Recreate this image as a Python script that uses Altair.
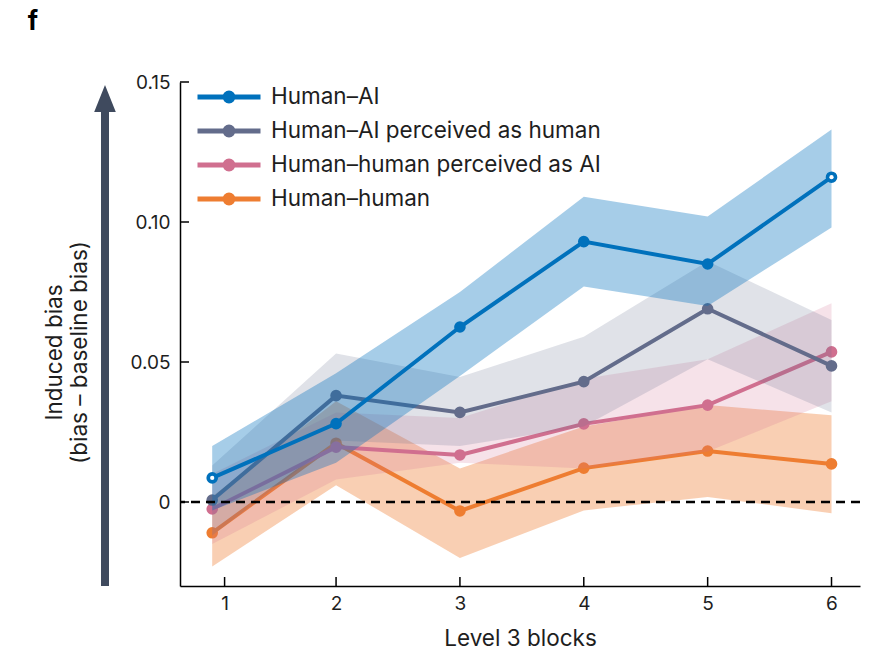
import altair as alt
import pandas as pd

blocks = [1, 2, 3, 4, 5, 6]
series_names = [
    "Human–AI",
    "Human–AI perceived as human",
    "Human–human perceived as AI",
    "Human–human",
]
colors = ["#0071BC", "#636C8B", "#D06F8F", "#EE7D31"]
band_opacity = [0.35, 0.2, 0.2, 0.37]

human_ai = [0.0086, 0.028, 0.0625, 0.093, 0.085, 0.116]
human_ai_lo = [-0.003, 0.014, 0.045, 0.077, 0.070, 0.098]
human_ai_hi = [0.020, 0.046, 0.075, 0.109, 0.102, 0.133]

ai_as_human = [0.0007, 0.038, 0.032, 0.043, 0.069, 0.0486]
ai_as_human_lo = [-0.012, 0.022, 0.020, 0.027, 0.051, 0.032]
ai_as_human_hi = [0.013, 0.053, 0.0446, 0.059, 0.086, 0.065]

human_as_ai = [-0.0025, 0.0196, 0.0168, 0.0279, 0.0346, 0.0536]
human_as_ai_lo = [-0.015, 0.008, 0.014, 0.012, 0.018, 0.036]
human_as_ai_hi = [0.010, 0.032, 0.030, 0.044, 0.051, 0.071]

human_human = [-0.011, 0.021, -0.0032, 0.0121, 0.0182, 0.0136]
human_human_lo = [-0.023, 0.006, -0.020, -0.003, 0.0018, -0.004]
human_human_hi = [0.002, 0.036, 0.012, 0.027, 0.0346, 0.031]

x_tick_values = [1.1, 2, 3, 4, 5, 6]
y_tick_values = [0, 0.05, 0.10, 0.15]
ring_blocks = [1, 6]

all_series = [
    (series_names[0], human_ai, human_ai_lo, human_ai_hi),
    (series_names[1], ai_as_human, ai_as_human_lo, ai_as_human_hi),
    (series_names[2], human_as_ai, human_as_ai_lo, human_as_ai_hi),
    (series_names[3], human_human, human_human_lo, human_human_hi),
]
rows = []
for name, mean, lo, hi in all_series:
    for b, m, l, h in zip(blocks, mean, lo, hi):
        rows.append({"series": name, "block": b, "mean": m, "lo": l, "hi": h})
df = pd.DataFrame(rows)

W, H = 680, 504
FONT = "Inter"
TXT = "#1E1E1E"
xscale = alt.Scale(domain=[0.74, 6.23], nice=False, zero=False)
yscale = alt.Scale(domain=[-0.03, 0.15], nice=False, zero=False)
cscale = alt.Scale(domain=series_names, range=colors)

xaxis = alt.Axis(
    values=x_tick_values,
    labelExpr="'' + round(datum.value)",
    ticks=False,
    grid=False,
    domainColor="black",
    domainWidth=1.5,
    labelFont=FONT,
    labelFontSize=19,
    labelColor=TXT,
    labelPadding=8,
    title="Level 3 blocks",
    titleFont=FONT,
    titleFontSize=22.5,
    titleFontWeight="normal",
    titleColor=TXT,
    titlePadding=14,
)
yaxis = alt.Axis(
    values=y_tick_values,
    labelExpr="datum.value == 0 ? '0' : format(datum.value, '.2f')",
    ticks=False,
    grid=False,
    domainColor="black",
    domainWidth=1.5,
    labelFont=FONT,
    labelFontSize=19,
    labelColor=TXT,
    labelPadding=10,
    title=["Induced bias", "(bias – baseline bias)"],
    titleFont=FONT,
    titleFontSize=22.5,
    titleFontWeight="normal",
    titleColor=TXT,
    titleLineHeight=25,
    titleX=-114,
    titleY=270,
    titleBaseline="bottom",
)

sym_path = (
    "M-3.15,0L3.15,0"
    "M0.4,0A0.4,0.4,0,1,1,-0.4,0A0.4,0.4,0,1,1,0.4,0"
    "M0.15,0A0.15,0.15,0,1,1,-0.15,0A0.15,0.15,0,1,1,0.15,0"
)
legend = alt.Legend(
    title=None,
    orient="none",
    legendX=36.5,
    legendY=2.5,
    padding=0,
    symbolType=sym_path,
    symbolSize=400,
    symbolStrokeWidth=5,
    labelFont=FONT,
    labelFontSize=22.5,
    labelColor=TXT,
    labelOffset=29.5,
    rowPadding=5,
    labelLimit=500,
)

X = lambda f: alt.X(f, scale=xscale, axis=xaxis)
Y = lambda f: alt.Y(f, scale=yscale, axis=yaxis)
C = alt.Color("series:N", scale=cscale, legend=legend)

base = alt.Chart(df)
layers = []
order = [3, 2, 1, 0]  # draw orange first, blue last
for idx in order:
    name = series_names[idx]
    sub = base.transform_filter(alt.FieldEqualPredicate(field="series", equal=name))
    band = sub.mark_area(color=colors[idx], opacity=band_opacity[idx]).encode(
        x=X("block:Q"), y=Y("lo:Q"), y2="hi:Q",
    )
    line = sub.mark_line(strokeWidth=4).encode(
        x=X("block:Q"), y=Y("mean:Q"), color=C,
    )
    pts = sub.mark_circle(size=135, opacity=1).encode(
        x=X("block:Q"), y=Y("mean:Q"), color=C,
    )
    layers += [band, line, pts]

rings = base.transform_filter(
    alt.FieldEqualPredicate(field="series", equal=series_names[0])
).transform_filter(
    alt.FieldOneOfPredicate(field="block", oneOf=ring_blocks)
).mark_circle(size=18, color="white", opacity=1).encode(
    x=X("block:Q"), y=Y("mean:Q")
)

zero = alt.Chart(pd.DataFrame({"z": [0]})).mark_rule(
    color="black", strokeWidth=2.5, strokeDash=[9, 6]
).encode(y=Y("z:Q"))

xticks = alt.Chart(pd.DataFrame({"t": x_tick_values})).mark_rule(
    color="black", strokeWidth=1.5
).encode(x=X("t:Q"), y=alt.value(H - 9), y2=alt.value(H))
yticks = alt.Chart(pd.DataFrame({"t": y_tick_values})).mark_rule(
    color="black", strokeWidth=1.5
).encode(y=Y("t:Q"), x=alt.value(0), x2=alt.value(9))

one = pd.DataFrame({"k": [0]})
arrow_shaft = alt.Chart(one).mark_rule(color="#3F4A5E", strokeWidth=8).encode(
    x=alt.value(-75), y=alt.value(28), y2=alt.value(504)
)
arrow_head = alt.Chart(one).mark_point(
    shape="M0,-1.25L0.9,1L-0.9,1Z", filled=True, color="#3F4A5E", opacity=1, size=576
).encode(x=alt.value(-75), y=alt.value(18))
panel = alt.Chart(one).mark_text(
    text="f", font=FONT, fontSize=26, fontWeight="bold", color="black",
    align="center", baseline="middle",
).encode(x=alt.value(-147), y=alt.value(-60))

chart = alt.layer(
    *layers, rings, zero, xticks, yticks, arrow_shaft, arrow_head, panel
).properties(
    width=W,
    height=H,
    autosize=alt.AutoSizeParams(type="none"),
    padding={"left": 180, "top": 82, "right": 12, "bottom": 64},
).configure_view(stroke=None)

chart.save("out.html", embed_options={"renderer": "svg", "actions": False})
